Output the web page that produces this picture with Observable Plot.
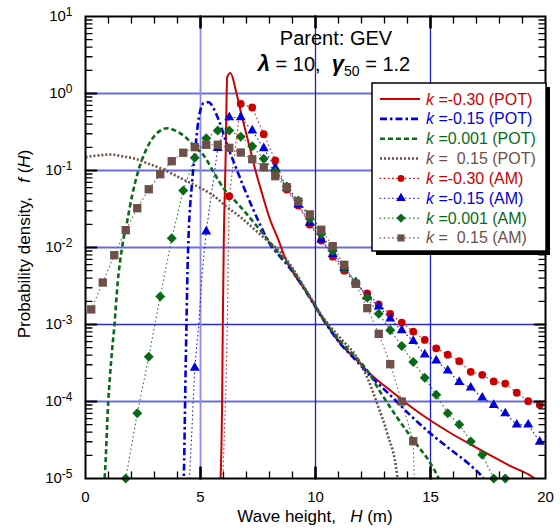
<!DOCTYPE html>
<html><head><meta charset="utf-8">
<script src="https://cdn.jsdelivr.net/npm/d3@7"></script>
<script src="https://cdn.jsdelivr.net/npm/@observablehq/plot@0.6"></script>
<style>
body{margin:0;background:#fff;}
svg text{font-family:"Liberation Sans",Arial,sans-serif;}
</style>
</head><body><div id="chart"></div>
<script>
// ---------- data: [H (m), f(H)] ----------
const potKm030 = [[5.86,8e-6],[5.94,1.03e-4],[5.97,1.03e-3],[6.01,1.06e-2],[6.09,0.135],[6.16,1.63],[6.30,1.84],[6.57,0.99],[6.81,0.49],[7.10,0.222],[7.39,0.100],[7.68,0.0498],[8.04,0.0224],[8.40,0.0123],[8.70,7.1e-3],[8.93,5.3e-3],[9.65,2.5e-3],[10.36,1.13e-3],[11.09,5.6e-4],[11.81,3.4e-4],[12.54,2.07e-4],[13.26,1.39e-4],[14.13,8.6e-5],[15.0,5.66e-5],[15.87,3.9e-5],[16.74,2.77e-5],[17.61,1.99e-5],[18.48,1.45e-5],[19.45,1.04e-5],[19.8,8.5e-6]];
const potKm015 = [[4.25,8e-6],[4.27,1.0e-5],[4.35,2.29e-4],[4.39,1.02e-3],[4.45,7.5e-3],[4.64,0.074],[4.78,0.201],[4.93,0.49],[5.14,0.75],[5.36,0.77],[5.58,0.63],[5.80,0.446],[6.09,0.245],[6.30,0.165],[6.59,0.100],[6.88,0.0607],[7.25,0.0333],[7.61,0.0193],[7.97,0.0117],[8.48,7.5e-3],[8.93,5.2e-3],[9.65,2.49e-3],[10.36,1.13e-3],[11.09,5.6e-4],[11.81,3.3e-4],[12.54,1.93e-4],[13.26,1.2e-4],[14.13,6.6e-5],[15.0,3.84e-5],[15.87,2.38e-5],[16.74,1.48e-5],[17.3,1.0e-5],[17.5,8e-6]];
const potK0001 = [[0.80,8e-6],[0.83,1.0e-5],[0.99,1.0e-4],[1.12,3.5e-4],[1.26,1.0e-3],[1.40,3.5e-3],[1.59,1.0e-2],[1.80,0.021],[2.03,0.048],[2.30,0.100],[2.54,0.160],[2.83,0.240],[3.19,0.320],[3.55,0.354],[3.91,0.330],[4.35,0.270],[4.78,0.201],[5.14,0.157],[5.58,0.0942],[6.01,0.0583],[6.45,0.0420],[6.88,0.0303],[7.32,0.0211],[7.75,0.0148],[8.12,0.0106],[8.48,7.9e-3],[8.93,5.5e-3],[9.65,2.56e-3],[10.36,1.16e-3],[11.09,6.0e-4],[11.81,3.6e-4],[12.25,2.53e-4],[12.83,1.31e-4],[13.55,6.2e-5],[14.27,3.1e-5],[15.0,1.57e-5],[15.36,1.0e-5],[15.5,8e-6]];
const potK015 = [[0,0.149],[0.58,0.157],[1.09,0.161],[1.59,0.153],[2.17,0.142],[2.75,0.122],[3.33,0.105],[3.91,0.0861],[4.49,0.0705],[5.07,0.0578],[5.65,0.0450],[6.16,0.0333],[6.74,0.0248],[7.32,0.0175],[7.90,0.0123],[8.48,8.7e-3],[8.93,5.8e-3],[9.65,2.61e-3],[10.36,1.2e-3],[11.09,6.6e-4],[11.81,3.7e-4],[12.25,2.05e-4],[12.68,9.4e-5],[13.12,3.84e-5],[13.55,1.09e-5],[13.6,8e-6]];

const amKm030 = [[5.97,1.0e-5],[6.09,1.03e-4],[6.17,1.13e-3],[6.21,9.1e-3],[6.25,0.0463],[6.75,0.734],[7.25,0.658],[7.75,0.296],[8.25,0.135],[8.75,0.0566],[9.25,0.0351],[9.75,0.0199],[10.25,0.0123],[10.75,7.6e-3],[11.25,5.0e-3],[11.75,3.4e-3],[12.25,2.53e-3],[12.75,1.82e-3],[13.25,1.37e-3],[13.75,1.06e-3],[14.25,8.1e-4],[14.75,6.3e-4],[15.25,4.9e-4],[15.75,4.05e-4],[16.25,3.34e-4],[16.75,2.43e-4],[17.25,2.22e-4],[17.75,1.82e-4],[18.25,1.71e-4],[18.75,1.30e-4],[19.25,1.01e-4],[19.75,9.1e-5]];
const amKm015 = [[4.52,1.0e-5],[4.64,5.2e-5],[4.75,2.74e-4],[4.93,1.03e-3],[5.07,4.6e-3],[5.25,0.0161],[5.75,0.195],[6.25,0.488],[6.75,0.488],[7.25,0.330],[7.75,0.194],[8.25,0.108],[8.75,0.0589],[9.25,0.0361],[9.75,0.0209],[10.25,0.0127],[10.75,8.2e-3],[11.25,5.4e-3],[11.75,3.54e-3],[12.25,2.31e-3],[12.75,1.71e-3],[13.25,1.19e-3],[13.75,8.4e-4],[14.25,6.1e-4],[14.75,4.07e-4],[15.25,3.40e-4],[15.75,2.51e-4],[16.25,1.79e-4],[16.75,1.51e-4],[17.25,1.12e-4],[17.75,9.0e-5],[18.25,7.0e-5],[18.75,5.0e-5],[19.25,5.0e-5],[19.75,3.0e-5]];
const amK0001 = [[1.75,1.0e-5],[2.25,7.05e-5],[2.75,3.81e-4],[3.25,2.31e-3],[3.75,0.0132],[4.25,0.055],[4.75,0.146],[5.25,0.262],[5.75,0.330],[6.25,0.330],[6.75,0.275],[7.25,0.207],[7.75,0.142],[8.25,0.097],[8.75,0.062],[9.25,0.0407],[9.75,0.0236],[10.25,0.0150],[10.75,9.0e-3],[11.25,5.4e-3],[11.75,3.54e-3],[12.25,2.22e-3],[12.75,1.38e-3],[13.25,8.45e-4],[13.75,5.26e-4],[14.25,3.25e-4],[14.75,2.04e-4],[15.25,1.22e-4],[15.75,7.05e-5],[16.25,5.03e-5],[16.75,3.03e-5],[17.25,2.03e-5],[17.75,1.0e-5],[18.25,1.0e-5]];
const amK015 = [[0.25,1.57e-3],[0.75,3.51e-3],[1.25,7.94e-3],[1.75,0.0168],[2.25,0.0324],[2.75,0.0571],[3.25,0.0895],[3.75,0.132],[4.25,0.170],[4.75,0.201],[5.25,0.216],[5.75,0.216],[6.25,0.197],[6.75,0.171],[7.25,0.140],[7.75,0.110],[8.25,0.0843],[8.75,0.0607],[9.25,0.0395],[9.75,0.0269],[10.25,0.0170],[10.75,0.0104],[11.25,5.96e-3],[11.75,3.38e-3],[12.25,1.63e-3],[12.75,7.57e-4],[13.25,3.05e-4],[13.75,1.0e-4],[14.25,3.05e-5],[14.3,8e-6]];

const seriesLabels = ["k =-0.30 (POT)","k =-0.15 (POT)","k =0.001 (POT)","k =  0.15 (POT)","k =-0.30 (AM)","k =-0.15 (AM)","k =0.001 (AM)","k =  0.15 (AM)"];

// axis ticks
const xTickValues = [0, 5, 10, 15, 20];
const xMajorTicks = [5, 10, 15];
const xMinorTicks = [1,2,3,4,6,7,8,9,11,12,13,14,16,17,18,19];
const yDecades = [1e-5, 1e-4, 1e-3, 1e-2, 1e-1, 1, 10];
const yExponents = ["-5","-4","-3","-2","-1","0","1"];
const yMajorTicks = [1e-4, 1e-3, 1e-2, 1e-1, 1];
const yMinorTicks = [];
for (const d of [1e-5,1e-4,1e-3,1e-2,1e-1,1]) for (const m of [2,3,4,5,6,7,8,9]) yMinorTicks.push(+(m*d).toPrecision(3));
const gridLightY = [1, 0.1, 0.01, 1e-4];
const gridDarkY = [1e-3];
const gridLightX = [5];
const gridDarkX = [10, 15];

// ---------- styles ----------
const RED = "#cc0000", BLUE = "#0000dd", GREEN = "#0b6a1a", BROWN = "#6e5048";
const pot = [
  {data: potKm030, color: RED, width: 2, dash: null},
  {data: potKm015, color: BLUE, width: 2.6, dash: "7,3,2.5,3"},
  {data: potK0001, color: GREEN, width: 2.6, dash: "5,3"},
  {data: potK015, color: BROWN, width: 2.6, dash: "2,2"}
];
const diamondSym = {draw(ctx, size){ const r = Math.sqrt(size/2); ctx.moveTo(0,-r); ctx.lineTo(r,0); ctx.lineTo(0,r); ctx.lineTo(-r,0); ctx.closePath(); }};
const am = [
  {data: amKm030, color: RED, symbol: "circle", r: 3.9, lsym: d3.symbolCircle, lsize: 36},
  {data: amKm015, color: BLUE, symbol: "triangle", r: 3.7, lsym: d3.symbolTriangle, lsize: 40},
  {data: amK0001, color: GREEN, symbol: diamondSym, r: 4.0, lsym: diamondSym, lsize: 42},
  {data: amK015, color: BROWN, symbol: "square", r: 4.7, lsym: d3.symbolSquare, lsize: 50}
];
const isMarker = h => { const q = h*4; return Math.abs(q - Math.round(q)) < 1e-6 && Math.round(q) % 2 === 1; };

const tickLine = {draw(context, l){ context.moveTo(0,0); context.lineTo(0,-l); }};
const vt = (data, opts) => Plot.vector(data, {shape: tickLine, anchor: "start", stroke: "black", ...opts});

const plot = Plot.plot({
  width: 560, height: 528,
  marginLeft: 85, marginRight: 15, marginTop: 16, marginBottom: 50,
  style: {fontFamily: "Liberation Sans, Arial, sans-serif", fontSize: "15px", background: "white", color: "black", overflow: "visible"},
  x: {domain: [0, 20], label: null},
  y: {type: "log", domain: [1e-5, 10], label: null},
  marks: [
    Plot.ruleY(gridLightY, {stroke: "#6c6ce2", strokeWidth: 2}),
    Plot.ruleY(gridDarkY, {stroke: "#2a2ad2", strokeWidth: 1.3}),
    Plot.ruleX(gridLightX, {stroke: "#8a8aee", strokeWidth: 1.8}),
    Plot.ruleX(gridDarkX, {stroke: "#1c1cd0", strokeWidth: 1.3}),
    ...am.map(s => Plot.line(s.data, {x: d => d[0], y: d => d[1], stroke: s.color, strokeWidth: 1.2, strokeDasharray: "0.6,3.6", strokeLinecap: "round", strokeOpacity: 0.85, clip: true})),
    ...pot.map(s => Plot.line(s.data, {x: d => d[0], y: d => d[1], stroke: s.color, strokeWidth: s.width, strokeDasharray: s.dash, strokeLinecap: "butt", curve: "monotone-x", clip: true})),
    ...am.map(s => Plot.dot(s.data.filter(d => isMarker(d[0])), {x: d => d[0], y: d => d[1], fill: s.color, symbol: s.symbol, r: s.r})),
    vt(xMinorTicks, {x: d => d, frameAnchor: "bottom", rotate: 0, length: 6.5, strokeWidth: 1.3}),
    vt(xMinorTicks, {x: d => d, frameAnchor: "top", rotate: 180, length: 6.5, strokeWidth: 1.3}),
    vt(xMajorTicks, {x: d => d, frameAnchor: "bottom", rotate: 0, length: 11, strokeWidth: 2.6}),
    vt(xMajorTicks, {x: d => d, frameAnchor: "top", rotate: 180, length: 11, strokeWidth: 2.6}),
    vt(yMinorTicks, {y: d => d, frameAnchor: "left", rotate: 90, length: 6.5, strokeWidth: 1.3}),
    vt(yMinorTicks, {y: d => d, frameAnchor: "right", rotate: -90, length: 6.5, strokeWidth: 1.3}),
    vt(yMajorTicks, {y: d => d, frameAnchor: "left", rotate: 90, length: 11, strokeWidth: 2}),
    vt(yMajorTicks, {y: d => d, frameAnchor: "right", rotate: -90, length: 11, strokeWidth: 2}),
    Plot.frame({stroke: "black", strokeWidth: 2}),
    Plot.axisX({ticks: xTickValues, tickSize: 0, tickPadding: 13, fontSize: 15, label: null, anchor: "bottom"}),
    Plot.axisY({ticks: yDecades, tickSize: 0, tickPadding: 13, fontSize: 15, label: null, anchor: "left",
      tickFormat: d => "10^" + yExponents[yDecades.indexOf(d)]})
  ]
});
document.getElementById("chart").appendChild(plot);

const svg = d3.select(plot);
// superscript exponents on y tick labels
svg.selectAll('g[aria-label="y-axis tick label"] text').each(function(){
  const parts = this.textContent.split("^");
  const t = d3.select(this); t.text(null);
  t.append("tspan").text(parts[0]);
  t.append("tspan").attr("dy", "-0.45em").attr("font-size", "12px").text(parts[1]);
});

// annotations
svg.append("text").attr("x", 336).attr("y", 45).attr("text-anchor", "middle").attr("font-size", 20).attr("fill", "black").text("Parent: GEV");
const t2 = svg.append("text").attr("x", 334).attr("y", 71).attr("text-anchor", "middle").attr("font-size", 20).attr("fill", "black").style("white-space", "pre");
t2.append("tspan").attr("font-weight", "bold").attr("font-style", "italic").attr("font-size", 22).text("λ");
t2.append("tspan").text(" = 10,  ");
t2.append("tspan").attr("font-weight", "bold").attr("font-style", "italic").attr("font-size", 22).text("γ");
t2.append("tspan").attr("font-size", 14).attr("dy", 5).text("50");
t2.append("tspan").attr("dy", -5).text(" = 1.2");

// axis titles
const yl = svg.append("text").attr("transform", "translate(30,244) rotate(-90)").attr("text-anchor", "middle").attr("font-size", 17).attr("fill", "black").style("white-space", "pre");
yl.append("tspan").text("Probability density,   ");
yl.append("tspan").attr("font-style", "italic").text("f");
yl.append("tspan").text(" (");
yl.append("tspan").attr("font-style", "italic").text("H");
yl.append("tspan").text(")");
const xl = svg.append("text").attr("x", 315).attr("y", 522).attr("text-anchor", "middle").attr("font-size", 17).attr("fill", "black").style("white-space", "pre");
xl.append("tspan").text("Wave height,   ");
xl.append("tspan").attr("font-style", "italic").text("H");
xl.append("tspan").text(" (m)");

// legend
const lg = svg.append("g").attr("text-anchor", "start");
const LX = 372, LY = 83, LW = 174, LH = 168;
lg.append("rect").attr("x", LX+4).attr("y", LY+4).attr("width", LW).attr("height", LH)
  .style("fill", "black").style("stroke", "none");
lg.append("rect").attr("x", LX).attr("y", LY).attr("width", LW).attr("height", LH)
  .style("fill", "white").style("stroke", "black").style("stroke-width", "1.5px");
const legendRows = [
  ...pot.map(s => ({color: s.color, width: s.width, dash: s.dash, cap: "butt", sym: null})),
  ...am.map(s => ({color: s.color, width: 1.2, dash: "0.6,3.6", cap: "round", sym: s.lsym, size: s.lsize}))
];
legendRows.forEach((row, i) => {
  const cy = 99 + i*19.85;
  lg.append("line").attr("x1", 380).attr("x2", 420).attr("y1", cy).attr("y2", cy)
    .style("stroke", row.color).style("stroke-width", row.width + "px").style("stroke-linecap", row.cap)
    .style("stroke-dasharray", row.dash || "none");
  if (row.sym) lg.append("path").attr("d", d3.symbol(row.sym, row.size)()).attr("transform", `translate(401,${cy})`).style("fill", row.color).style("stroke", "none");
  const label = seriesLabels[i];
  const tx = lg.append("text").attr("x", 426).attr("y", cy + 5.5).attr("text-anchor", "start")
    .attr("font-size", 16).style("fill", row.color).style("white-space", "pre");
  tx.append("tspan").attr("font-style", "italic").text(label.slice(0, 1));
  tx.append("tspan").text(label.slice(1));
});
</script></body></html>
